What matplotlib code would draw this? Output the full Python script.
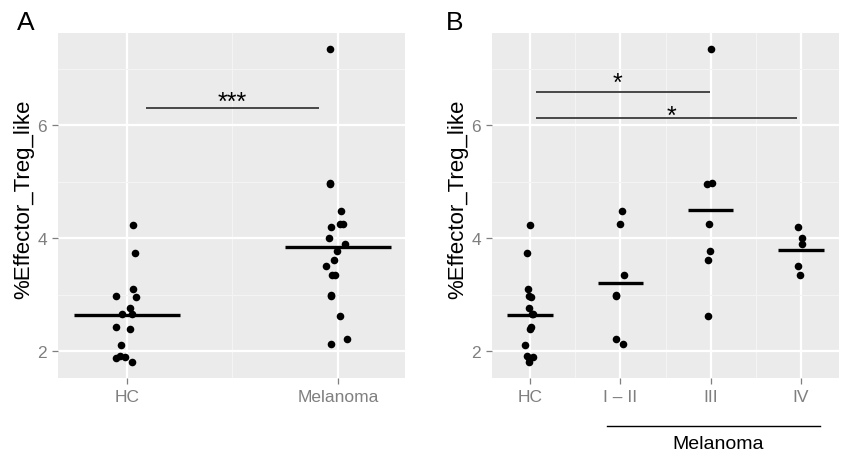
import matplotlib.pyplot as plt
import numpy as np
from matplotlib.transforms import blended_transform_factory

plt.rcParams['font.family'] = ['Liberation Sans', 'DejaVu Sans']

# healthy controls
hc = [4.24, 3.73, 3.10, 2.97, 2.95, 2.76, 2.66, 2.65, 2.42, 2.39, 2.11, 1.91, 1.90, 1.88, 1.80]
hc_jit_a = [0.028, 0.038, 0.028, -0.052, 0.044, 0.016, -0.024, 0.024, -0.052, 0.016, -0.030, -0.032, -0.008, -0.052, 0.024]
hc_jit_b = [0.0, -0.037, -0.026, -0.007, 0.011, -0.015, 0.030, 0.020, 0.011, 0.0, -0.052, -0.037, 0.037, -0.007, -0.015]

# melanoma by stage
stage12 = [4.48, 4.26, 3.35, 3.00, 2.97, 2.21, 2.13]
stage3 = [7.35, 4.96, 4.98, 4.25, 3.78, 3.61, 2.62]
stage4 = [4.19, 4.00, 3.89, 3.50, 3.34]
stage12_jit_a = [0.014, 0.011, -0.028, -0.033, -0.033, 0.043, -0.033]
stage3_jit_a = [-0.039, -0.036, -0.036, 0.024, -0.002, -0.019, 0.011]
stage4_jit_a = [-0.032, -0.043, 0.035, -0.055, -0.013]
stage12_jit_b = [0.022, 0.0, 0.044, -0.048, -0.048, -0.044, 0.030]
stage3_jit_b = [0.004, -0.041, 0.019, -0.022, -0.011, -0.030, -0.033]
stage4_jit_b = [-0.033, 0.007, 0.015, -0.037, -0.015]

labels_a = ['HC', 'Melanoma']
labels_b = ['HC', 'I – II', 'III', 'IV']

# significance bars: (x start, x end, y, label, label x, label baseline y)
sig_a = [(1.09, 1.91, 6.31, '***', 1.5, 6.29)]
sig_b = [(1.067, 2.99, 6.60, '*', 1.97, 6.63),
         (1.067, 3.96, 6.125, '*', 2.57, 6.05)]

W, H = 841, 452
fig = plt.figure(figsize=(W / 100, H / 100), dpi=100)
axA = fig.add_axes([58 / W, 1 - 379 / H, (405 - 58) / W, (379 - 34) / H])
axB = fig.add_axes([492 / W, 1 - 379 / H, (839 - 492) / W, (379 - 34) / H])


def style(ax, labels):
    n = len(labels)
    ax.set_facecolor('#EBEBEB')
    for s in ax.spines.values():
        s.set_visible(False)
    ax.set_xticks(np.arange(1, n + 1))
    ax.set_xticklabels(labels)
    ax.set_xticks(np.arange(1.5, n), minor=True)
    ax.set_yticks([2, 4, 6])
    ax.set_yticks([3, 5, 7], minor=True)
    ax.set_ylim(1.52, 7.64)
    ax.grid(which='major', color='white', lw=1.6)
    ax.grid(which='minor', color='#F4F4F4', lw=0.8)
    ax.set_axisbelow(True)
    ax.tick_params(which='major', length=4.3, width=0.9, color='#7F7F7F',
                   labelcolor='#7F7F7F', labelsize=12.5, pad=3.5)
    ax.tick_params(which='minor', length=0)
    ax.set_ylabel('%Effector_Treg_like', fontsize=16, labelpad=2.5)
    ax.yaxis.label.set_y(0.52)


def draw_group(ax, x, vals, jit):
    ax.scatter(x + np.array(jit), vals, s=30, color='black', zorder=3, lw=0)
    m = np.mean(vals)
    ax.plot([x - 0.25, x + 0.25], [m, m], color='black', lw=2.4, zorder=4,
            solid_capstyle='butt')


def draw_sig(ax, sigs):
    for x0, x1, y, lab, lx, ly in sigs:
        ax.plot([x0, x1], [y, y], color='#3A3A3A', lw=1.3, zorder=2,
                solid_capstyle='butt')
        ax.text(lx, ly, lab, ha='center', va='baseline', fontsize=18)


# panel A
style(axA, labels_a)
axA.set_xlim(0.673, 2.318)
mel = stage12 + stage3 + stage4
mel_jit = stage12_jit_a + stage3_jit_a + stage4_jit_a
draw_group(axA, 1, hc, hc_jit_a)
draw_group(axA, 2, mel, mel_jit)
draw_sig(axA, sig_a)

# panel B
style(axB, labels_b)
axB.set_xlim(0.58, 4.42)
draw_group(axB, 1, hc, hc_jit_b)
draw_group(axB, 2, stage12, stage12_jit_b)
draw_group(axB, 3, stage3, stage3_jit_b)
draw_group(axB, 4, stage4, stage4_jit_b)
draw_sig(axB, sig_b)

# melanoma bracket under stages
tr = blended_transform_factory(axB.transData, fig.transFigure)
axB.plot([1.85, 4.21], [1 - 427 / H, 1 - 427 / H], color='black', lw=1.0,
         transform=tr, clip_on=False)
axB.text(3.08, 1 - 445 / H, 'Melanoma', transform=tr, ha='center', va='center',
         fontsize=14)

fig.text(17 / W, 1 - 23 / H, 'A', fontsize=19, va='center', ha='left')
fig.text(446 / W, 1 - 23 / H, 'B', fontsize=19, va='center', ha='left')

fig.savefig('out.png', dpi=100)
